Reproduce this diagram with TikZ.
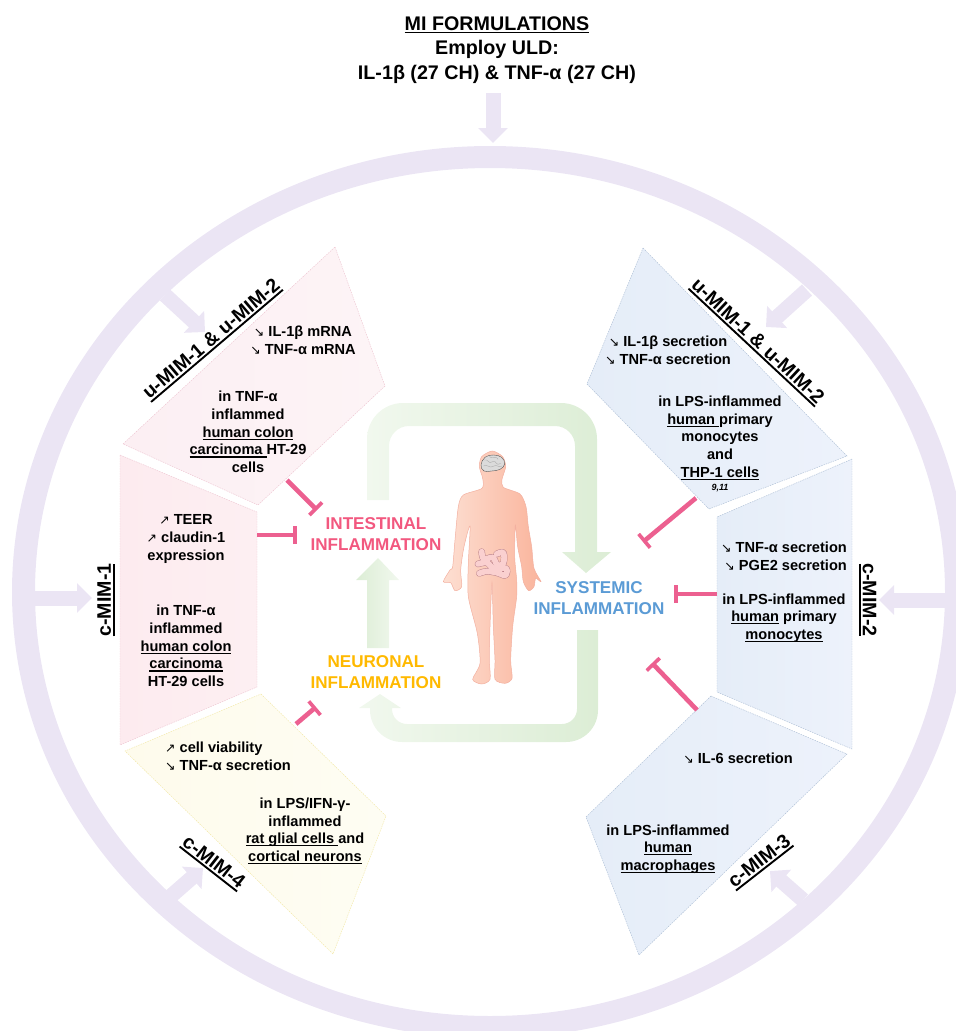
\documentclass[tikz,border=0pt]{standalone}
\usepackage{fontspec}
\setmainfont{Liberation Sans}
\newfontfamily\arrowfont{DejaVu Sans}
\usetikzlibrary{arrows.meta}
\newcommand{\ulb}[1]{\leavevmode\setbox0=\hbox{#1}\rlap{\rule[-2.6pt]{\wd0}{1.2pt}}\box0\relax}
\newcommand{\ulbig}[1]{\leavevmode\setbox0=\hbox{#1}\rlap{\rule[-3.6pt]{\wd0}{1.9pt}}\box0\relax}
\newcommand{\dnar}{{\arrowfont\mdseries\fontsize{12.5}{12.5}\selectfont ↘}}
\newcommand{\upar}{{\arrowfont\mdseries\fontsize{12.5}{12.5}\selectfont ↗}}
\definecolor{ringc}{HTML}{EBE5F4}
\definecolor{tbarc}{HTML}{EC6090}
\definecolor{pinkedge}{HTML}{EEC6D2}
\definecolor{blueedge}{HTML}{AFC0D6}
\definecolor{yellowedge}{HTML}{F2E8A8}
\definecolor{pinkA}{HTML}{FCEFF3}\definecolor{pinkB}{HTML}{FDF4F6}
\definecolor{pinkC}{HTML}{FDEBEF}\definecolor{pinkD}{HTML}{FDEFF2}
\definecolor{blueA}{HTML}{E5EDF8}\definecolor{blueB}{HTML}{EDF2FB}
\definecolor{yelA}{HTML}{FEFBEC}\definecolor{yelB}{HTML}{FEFDF3}
\definecolor{greenA}{HTML}{DCEDD5}\definecolor{greenB}{HTML}{F1F8EE}
\definecolor{skinA}{HTML}{FDDFD2}\definecolor{skinB}{HTML}{FAB49C}
\definecolor{skinE}{HTML}{F3B0A0}
\definecolor{gutc}{HTML}{FAD0D0}\definecolor{gute}{HTML}{B98088}
\definecolor{intc}{HTML}{F2587F}\definecolor{neuc}{HTML}{FFB900}\definecolor{sysc}{HTML}{5B9BD5}
\tikzset{
  bodytext/.style={font=\bfseries\fontsize{14.6}{17.7}\selectfont,align=center,inner sep=0pt,text=black},
  biglabel/.style={font=\bfseries\fontsize{19.6}{22}\selectfont,inner sep=0pt,text=black},
  inflabel/.style={font=\bfseries\fontsize{17.1}{20.5}\selectfont,align=center,inner sep=0pt},
  titletext/.style={font=\bfseries\fontsize{19.7}{24.3}\selectfont,align=center,inner sep=0pt,text=black},
  tbar/.style={draw=tbarc,line width=4.6pt,-{Bar[width=18pt,line width=3.6pt,length=0pt,sep=0pt]}},
  blockarrow/.style={draw=ringc,line width=15pt,-{Triangle[width=29pt,length=15pt,sep=0pt]}},
  pinkbox/.style={draw=pinkedge,line width=0.45pt,dash pattern=on 1.5pt off 1pt},
  bluebox/.style={draw=blueedge,line width=0.45pt,dash pattern=on 1.5pt off 1pt},
  yellowbox/.style={draw=yellowedge,line width=0.45pt,dash pattern=on 1.5pt off 1pt},
}
\begin{document}
\begin{tikzpicture}[x=1pt,y=-1pt]
\useasboundingbox (0,0) rectangle (956,1031);
\clip (0,0) rectangle (956,1031);
% ring
\fill[ringc,even odd rule] (490,592) ellipse [x radius=478pt,y radius=446pt]
                           (490,592) ellipse [x radius=455pt,y radius=424pt];
% ring arrows
\coordinate (atop1) at (493,93);   \coordinate (atop2) at (493,143);
\coordinate (aleft1) at (30,598);  \coordinate (aleft2) at (92,598);
\coordinate (aright1) at (946,600);\coordinate (aright2) at (879,600);
\coordinate (atl1) at (165,295);   \coordinate (atl2) at (205,332);
\coordinate (atr1) at (807,290);   \coordinate (atr2) at (766,327);
\coordinate (abl1) at (171,896);   \coordinate (abl2) at (203,868);
\coordinate (abr1) at (803,900);   \coordinate (abr2) at (770,871);
\foreach \s in {atop,aleft,aright,atl,atr,abl,abr}
  \draw[blockarrow] (\s1) -- (\s2);
% boxes
\shade[pinkbox,left color=pinkA,right color=pinkB] (335,247) -- (385,386) -- (258,505) -- (123,444) -- cycle;
\shade[pinkbox,left color=pinkC,right color=pinkD] (120,455) -- (257,512) -- (257,687) -- (120,745) -- cycle;
\shade[yellowbox,left color=yelA,right color=yelB] (261,694) -- (386,816) -- (333,954) -- (125,751) -- cycle;
\shade[bluebox,left color=blueA,right color=blueB] (643,248) -- (847,456) -- (709,509) -- (587,384) -- cycle;
\shade[bluebox,left color=blueA,right color=blueB] (852,459) -- (717,517) -- (717,692) -- (852,749) -- cycle;
\shade[bluebox,left color=blueA,right color=blueB] (711,696) -- (847,754) -- (639,955) -- (586,817) -- cycle;
% green loop
\shade[left color=greenB,right color=greenA]
  (367,500) [rounded corners=36pt] -- (367,403) -- (597,403) [sharp corners] -- (597,552) -- (611,552) -- (586,573)
  -- (562,552) -- (575,552) [rounded corners=20pt] -- (575,426) -- (389,426) [sharp corners] -- (389,500) -- cycle;
\shade[left color=greenB,right color=greenA]
  (577,630) -- (598,630) [rounded corners=32pt] -- (598,742) -- (370,742) [sharp corners] -- (370,708) -- (359,708) -- (380,694)
  -- (401,708) -- (392,708) [rounded corners=15pt] -- (392,724) -- (577,724) [sharp corners] -- cycle;
\shade[left color=greenA,right color=greenB]
  (367,648) -- (367,580) -- (356,580) -- (378,558) -- (399,580) -- (389,580) -- (389,648) -- cycle;
% person
\begin{scope}[shift={(340,400)},x=0.33333pt,y=-0.33333pt]
\shade[left color=skinA,right color=skinB,draw=skinE,line width=0.5pt]
  plot[smooth cycle,tension=0.45] coordinates {
  (457,153) (488,170) (497,200) (486,238) (490,262) (540,282) (558,320) (565,380) (575,440) (582,505) (603,545)
  (587,535) (582,560) (566,572) (550,545) (545,500) (533,440) (526,375)
  (524,470) (530,540) (530,590) (518,680) (512,780) (516,835) (495,850) (465,838) (465,780) (460,680) (456,548)
  (450,680) (448,780) (450,838) (425,852) (398,838) (420,790) (412,700) (385,590) (385,490) (390,378)
  (372,440) (362,510) (365,560) (345,572) (332,548) (310,545) (330,510) (338,500) (345,420) (355,320) (370,285) (426,265) (428,235) (418,200) (425,170)};
% brain
\fill[gray!28,draw=gray!70!black,line width=0.4pt] plot[smooth cycle,tension=0.7] coordinates {
  (423,195) (435,172) (460,165) (485,172) (494,192) (480,208) (455,213) (432,213)};
\draw[gray!65,line width=0.4pt] (432,180) .. controls (445,175) and (445,195) .. (458,185)
  .. controls (470,178) and (465,200) .. (482,190);
\draw[gray!65,line width=0.4pt] (430,198) .. controls (442,190) and (448,208) .. (462,198)
  .. controls (472,192) and (475,205) .. (486,198);
\draw[gray!65,line width=0.4pt] (448,170) .. controls (455,178) and (470,165) .. (474,178);
% gut
\foreach \w/\c in {6.6pt/gute,5.7pt/gutc}{
  \draw[\c,line width=\w,line cap=round,line join=round]
    plot[smooth,tension=0.6] coordinates {(425,455) (432,478) (458,472) (472,495) (490,490) (490,458) (470,462)};
  \draw[\c,line width=\w,line cap=round,line join=round]
    plot[smooth,tension=0.6] coordinates {(414,492) (440,488) (462,505) (498,505) (496,526) (470,518) (440,514) (418,520)};
}
\end{scope}
% T-bars
\coordinate (t1a) at (287,480); \coordinate (t1b) at (317,510);
\coordinate (t2a) at (257,535); \coordinate (t2b) at (297,535);
\coordinate (t3a) at (296,724); \coordinate (t3b) at (316,707);
\coordinate (t4a) at (696,498); \coordinate (t4b) at (643,542);
\coordinate (t5a) at (717,594); \coordinate (t5b) at (674,594);
\coordinate (t6a) at (697,710); \coordinate (t6b) at (652,663);
\foreach \s in {t1,t2,t3,t4,t5,t6}
  \draw[tbar] (\s a) -- (\s b);
% title
\node[titletext] (title) at (497,50) {\ulb{MI FORMULATIONS}\\Employ ULD:\\IL-1β (27 CH) \& TNF-α (27 CH)};
% inflammation labels
\node[inflabel,text=intc] (intest) at (376,534) {INTESTINAL\\INFLAMMATION};
\node[inflabel,text=neuc] (neuro) at (376,672) {NEURONAL\\INFLAMMATION};
\node[inflabel,text=sysc] (syst) at (599,598) {SYSTEMIC\\INFLAMMATION};
% body texts
\node[bodytext] (tl1) at (303,340) {\dnar\ IL-1β mRNA\\\dnar\ TNF-α mRNA};
\node[bodytext] (tl2) at (248,432) {in TNF-α\\inflammed\\\ulb{human colon}\\\ulb{carcinoma\ }HT-29\\cells};
\node[bodytext] (l1) at (186,539) {\upar\ TEER\\\upar\ claudin-1\\expression};
\node[bodytext] (l2) at (186,646) {in TNF-α\\inflammed\\\ulb{human colon}\\\ulb{carcinoma}\\HT-29 cells};
\node[bodytext,align=left] (bl1) at (228,756) {\upar\ cell viability\\\dnar\ TNF-α secretion};
\node[bodytext] (bl2) at (305,831) {in LPS/IFN-γ-\\inflammed\\\ulb{rat glial cells\ }and\\\ulb{cortical neurons}};
\node[bodytext] (tr1) at (668,350) {\dnar\ IL-1β secretion\\\dnar\ TNF-α secretion};
\node[bodytext] (tr2) at (720,438) {in LPS-inflammed\\\ulb{human\ }primary\\monocytes\\and\\\ulb{THP-1 cells}};
\node[inner sep=0pt,font=\bfseries\itshape\fontsize{9}{10}\selectfont] (refs) at (720,488) {9,11};
\node[bodytext,align=right] (r1) at (784,556) {\dnar\ TNF-α secretion\\\dnar\ PGE2 secretion};
\node[bodytext] (r2) at (784,618) {in LPS-inflammed\\\ulb{human} primary\\\ulb{monocytes}};
\node[bodytext] (br1) at (738,758) {\dnar\ IL-6 secretion};
\node[bodytext] (br2) at (668,849) {in LPS-inflammed\\\ulb{human}\\\ulb{macrophages}};
% formulation labels
\node[biglabel,rotate=40.4] (ltl) at (212,340) {\ulbig{u-MIM-1 \& u-MIM-2}};
\node[biglabel,rotate=-43] (ltr) at (757,342) {\ulbig{u-MIM-1 \& u-MIM-2}};
\node[biglabel,rotate=90] (ll) at (106,600) {\ulbig{c-MIM-1}};
\node[biglabel,rotate=-90] (lr) at (868,600) {\ulbig{c-MIM-2}};
\node[biglabel,rotate=-38] (lbl) at (213,863) {\ulbig{c-MIM-4}};
\node[biglabel,rotate=38] (lbr) at (760,862) {\ulbig{c-MIM-3}};
\end{tikzpicture}
\end{document}
